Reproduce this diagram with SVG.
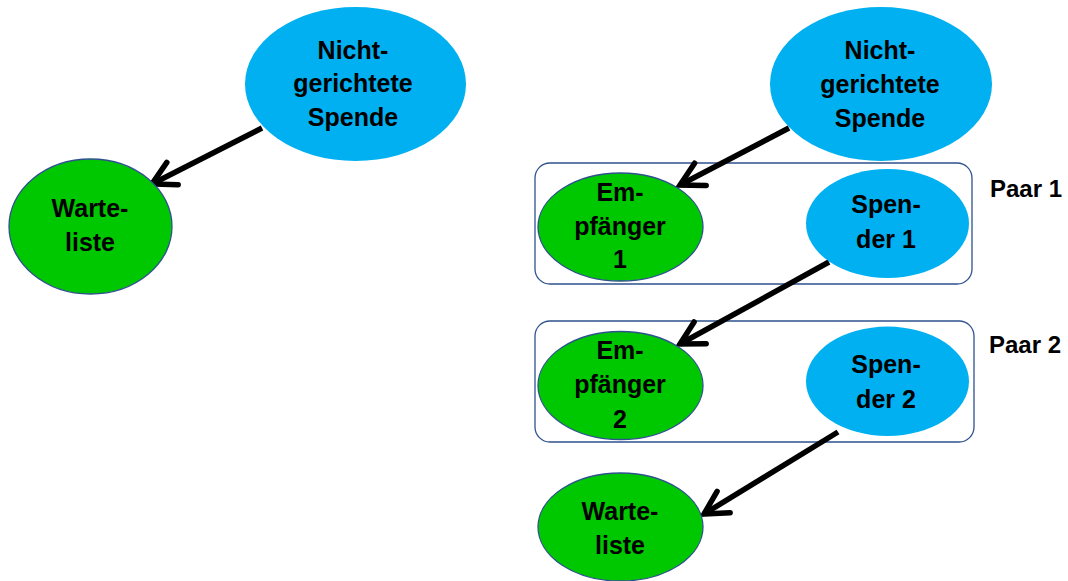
<svg xmlns="http://www.w3.org/2000/svg" width="1068" height="581" viewBox="0 0 1068 581">
<style>
.blue{fill:#00B0F0;stroke:none}
.green{fill:#00C800;stroke:#2F528F;stroke-width:1.3}
.pair{fill:none;stroke:#2F528F;stroke-width:1.3}
.t{font-family:"Liberation Sans",Arial,sans-serif;font-weight:bold;font-size:25px;fill:#000;text-anchor:middle}
.lbl{font-family:"Liberation Sans",Arial,sans-serif;font-weight:bold;font-size:24px;fill:#000}
.edge{stroke:#000;stroke-width:5.5;fill:none;marker-end:url(#arr)}
</style>
<defs>
<marker id="arr" markerUnits="userSpaceOnUse" orient="auto" refX="0" refY="0" markerWidth="60" markerHeight="60" viewBox="-30 -30 60 60" overflow="visible">
<path d="M-23,-12.5 L0,0 L-23,12.5" fill="none" stroke="#000" stroke-width="5.5" stroke-linecap="round" stroke-linejoin="miter"/>
</marker>
</defs>
<rect width="1068" height="581" fill="#fff"/>
<g id="pair1"><rect class="pair" x="535" y="163" width="437" height="121" rx="15"/><text class="lbl" x="990" y="197">Paar 1</text></g>
<g id="pair2"><rect class="pair" x="535" y="321" width="439" height="121" rx="15"/><text class="lbl" x="989" y="353">Paar 2</text></g>
<g id="connectors">
<line class="edge" x1="262" y1="128" x2="152" y2="184"/>
<line class="edge" x1="789" y1="128" x2="680" y2="185"/>
<line class="edge" x1="829" y1="262" x2="680" y2="344"/>
<line class="edge" x1="838" y1="432" x2="704" y2="514"/>
</g>
<g id="n_left_spende"><ellipse class="blue" cx="355.5" cy="84" rx="110.5" ry="77"/><text class="t" x="353" y="59">Nicht-</text><text class="t" x="353" y="92">gerichtete</text><text class="t" x="353" y="126">Spende</text></g>
<g id="n_left_warte"><ellipse class="green" cx="90.5" cy="226.5" rx="81.5" ry="67.5"/><text class="t" x="90" y="217">Warte-</text><text class="t" x="90" y="251">liste</text></g>
<g id="n_right_spende"><ellipse class="blue" cx="881" cy="84" rx="111" ry="77"/><text class="t" x="880" y="59">Nicht-</text><text class="t" x="880" y="93">gerichtete</text><text class="t" x="880" y="127">Spende</text></g>
<g id="n_empf1"><ellipse class="green" cx="620.5" cy="227" rx="82.5" ry="54"/><text class="t" x="620" y="201">Em-</text><text class="t" x="620" y="235">pfänger</text><text class="t" x="620" y="268">1</text></g>
<g id="n_spender1"><ellipse class="blue" cx="887.5" cy="223.5" rx="81.5" ry="54.5"/><text class="t" x="886" y="213">Spen-</text><text class="t" x="886" y="248">der 1</text></g>
<g id="n_empf2"><ellipse class="green" cx="620.5" cy="385.5" rx="82.5" ry="54"/><text class="t" x="620" y="359">Em-</text><text class="t" x="620" y="393">pfänger</text><text class="t" x="620" y="428">2</text></g>
<g id="n_spender2"><ellipse class="blue" cx="887.5" cy="381.3" rx="81.5" ry="54.7"/><text class="t" x="886" y="373">Spen-</text><text class="t" x="886" y="408">der 2</text></g>
<g id="n_right_warte"><ellipse class="green" cx="620.5" cy="527" rx="82.5" ry="54"/><text class="t" x="620" y="520">Warte-</text><text class="t" x="620" y="554">liste</text></g>
</svg>
